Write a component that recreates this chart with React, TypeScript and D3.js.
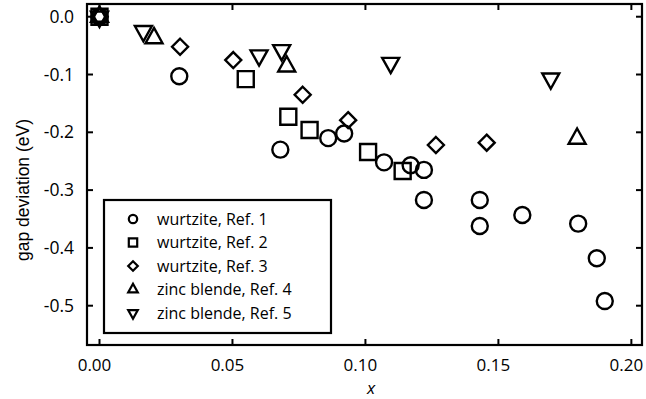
import React from "react";
import * as d3 from "d3";

const ref1X = [0, 0.030, 0.068, 0.086, 0.092, 0.107, 0.117, 0.122, 0.122, 0.143, 0.143, 0.159, 0.180, 0.187, 0.190];
const ref1Y = [0, -0.103, -0.230, -0.210, -0.202, -0.252, -0.257, -0.265, -0.317, -0.317, -0.362, -0.343, -0.358, -0.418, -0.492];
const ref2X = [0, 0.055, 0.071, 0.079, 0.101, 0.114];
const ref2Y = [0, -0.108, -0.173, -0.196, -0.234, -0.267];
const ref3X = [0, 0.0303, 0.0503, 0.0764, 0.0935, 0.1265, 0.1456];
const ref3Y = [0, -0.052, -0.075, -0.135, -0.179, -0.222, -0.218];
const ref4X = [0, 0.0205, 0.0704, 0.1796];
const ref4Y = [0, -0.037, -0.086, -0.211];
const ref5X = [0, 0.0165, 0.060, 0.0685, 0.1095, 0.1697];
const ref5Y = [0, -0.025, -0.067, -0.058, -0.080, -0.107];

const seriesNames = ["wurtzite, Ref. 1", "wurtzite, Ref. 2", "wurtzite, Ref. 3", "zinc blende, Ref. 4", "zinc blende, Ref. 5"];
const xTicks = [0, 0.05, 0.1, 0.15, 0.2];
const xTickLabels = ["0.00", "0.05", "0.10", "0.15", "0.20"];
const yTicks = [0, -0.1, -0.2, -0.3, -0.4, -0.5];
const yTickLabels = ["0.0", "-0.1", "-0.2", "-0.3", "-0.4", "-0.5"];

const W = 646, H = 399;
const L = 87, R = 642, T = 4, B = 345;
const FONT = "'Open Sans', Lato, sans-serif";
const LABEL_FONT = "'Liberation Sans', Arial, sans-serif";

function markerPath(kind: string, s: number): string {
  switch (kind) {
    case "circle":
      return d3.symbol(d3.symbolCircle, Math.PI * s * s)() as string;
    case "square":
      return `M${-s},${-s}H${s}V${s}H${-s}Z`;
    case "diamond":
      return `M0,${-s}L${s},0L0,${s}L${-s},0Z`;
    case "up": {
      const h = s * 1.8;
      return `M0,${-h * 2 / 3}L${s},${h / 3}L${-s},${h / 3}Z`;
    }
    case "down": {
      const h = s * 1.8;
      return `M0,${h * 2 / 3}L${s},${-h / 3}L${-s},${-h / 3}Z`;
    }
  }
  return "";
}

export default function App() {
  const x = d3.scaleLinear().domain([-0.0047, 0.204]).range([L, R]);
  const y = d3.scaleLinear().domain([0.022, -0.568]).range([T, B]);

  const series = [
    { kind: "circle", xs: ref1X, ys: ref1Y, size: 8, lsize: 4.2 },
    { kind: "square", xs: ref2X, ys: ref2Y, size: 8, lsize: 4.2 },
    { kind: "diamond", xs: ref3X, ys: ref3Y, size: 8, lsize: 4.8 },
    { kind: "up", xs: ref4X, ys: ref4Y, size: 8.5, lsize: 4.8 },
    { kind: "down", xs: ref5X, ys: ref5Y, size: 8.5, lsize: 4.8 },
  ];

  const tickLen = 6;
  const legX = 104, legY = 200, legW = 227, legH = 133;
  const rowY0 = 219, rowStep = 23.5;

  return (
    <svg width={W} height={H} style={{ position: "absolute", left: 0, top: 0, background: "#fff" }}>
      <rect x={0} y={0} width={W} height={H} fill="#fff" />
      {series.map((s, si) => (
        <g key={si}>
          {s.xs.map((xv, i) => (
            <path
              key={i}
              d={markerPath(s.kind, s.size)}
              transform={`translate(${x(xv)},${y(s.ys[i])})`}
              fill="none"
              stroke="#000"
              strokeWidth={2.4}
              strokeLinejoin="miter"
            />
          ))}
        </g>
      ))}
      {xTicks.map((t, i) => (
        <g key={"xt" + i}>
          <line x1={x(t)} x2={x(t)} y1={B} y2={B - tickLen} stroke="#000" strokeWidth={2} />
          <line x1={x(t)} x2={x(t)} y1={T} y2={T + tickLen} stroke="#000" strokeWidth={2} />
          <text x={x(t) - 5} y={371} textAnchor="middle" fontFamily={FONT} fontSize={17} fill="#000">
            {xTickLabels[i]}
          </text>
        </g>
      ))}
      {yTicks.map((t, i) => (
        <g key={"yt" + i}>
          <line x1={L} x2={L + tickLen} y1={y(t)} y2={y(t)} stroke="#000" strokeWidth={2} />
          <line x1={R} x2={R - tickLen} y1={y(t)} y2={y(t)} stroke="#000" strokeWidth={2} />
          <text x={74} y={y(t) + 6} textAnchor="end" fontFamily={FONT} fontSize={17.5} fill="#000">
            {yTickLabels[i]}
          </text>
        </g>
      ))}
      <rect x={L} y={T} width={R - L} height={B - T} fill="none" stroke="#000" strokeWidth={2.2} />
      <text x={371} y={394} textAnchor="middle" fontFamily={FONT} fontSize={17} fontStyle="italic" fill="#000">
        x
      </text>
      <text
        transform={`translate(29,190) rotate(-90)`}
        textAnchor="middle"
        fontFamily={LABEL_FONT}
        fontSize={17.5}
        fill="#000"
      >
        gap deviation (eV)
      </text>
      <rect x={legX} y={legY} width={legW} height={legH} fill="#fff" stroke="#000" strokeWidth={2.2} />
      {series.map((s, si) => (
        <g key={"lg" + si} transform={`translate(0,${rowY0 + si * rowStep})`}>
          <path
            d={markerPath(s.kind, s.lsize)}
            transform={`translate(133,0)`}
            fill="none"
            stroke="#000"
            strokeWidth={2.2}
          />
          <text x={157} y={5.5} fontFamily={FONT} fontSize={16} fill="#000">
            {seriesNames[si]}
          </text>
        </g>
      ))}
    </svg>
  );
}
